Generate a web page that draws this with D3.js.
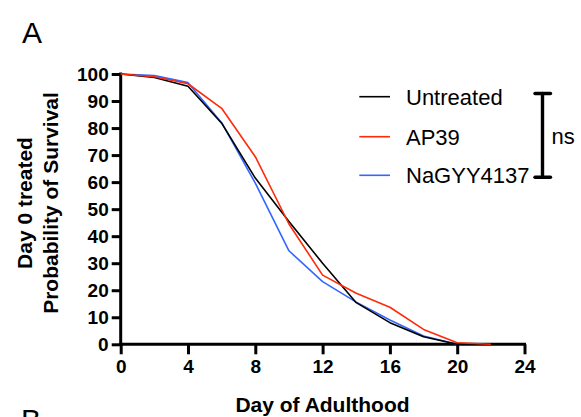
<!DOCTYPE html>
<html>
<head>
<meta charset="utf-8">
<script src="https://cdn.jsdelivr.net/npm/d3@7/dist/d3.min.js"></script>
<style>
  html, body { margin: 0; padding: 0; background: #fff; }
  svg { display: block; font-family: "Liberation Sans", Arial, Helvetica, sans-serif; }
</style>
</head>
<body>
<svg id="chart" width="581" height="417"></svg>
<script>
// Survival (%) by day of adulthood, worms treated on day 0
const days = [0, 2, 4, 6, 8, 10, 12, 14, 16, 18, 20, 22];
const untreated = [100, 98.7, 95.5, 81.8, 61.5, 45.4, 30.0, 15.4, 8.0, 2.8, 0];
const ap39 = [100, 99.0, 96.4, 87.3, 69.4, 44.5, 25.6, 18.9, 13.7, 5.5, 0.6, 0];
const nagyy4137 = [100, 99.4, 96.8, 82.0, 59.6, 34.6, 23.2, 15.6, 9.0, 3.1, 0];

const seriesNames = ["Untreated", "AP39", "NaGYY4137"];
const seriesColors = ["#000000", "#ff2a0a", "#3366ff"];
const xTicks = [0, 4, 8, 12, 16, 20, 24];
const yTicks = [0, 10, 20, 30, 40, 50, 60, 70, 80, 90, 100];

const svg = d3.select("#chart");

const x = d3.scaleLinear().domain([0, 24]).range([120.7, 524.5]);
const y = d3.scaleLinear().domain([0, 100]).range([344.3, 74]);

// Axes
const xAxis = svg.append("g")
  .attr("transform", `translate(0,${y(0)})`)
  .call(d3.axisBottom(x).tickValues(xTicks).tickSize(10).tickPadding(5).tickFormat(d3.format("d")));
const yAxis = svg.append("g")
  .attr("transform", `translate(${x(0)},0)`)
  .call(d3.axisLeft(y).tickValues(yTicks).tickSize(9).tickPadding(3).tickFormat(d3.format("d")));

[xAxis, yAxis].forEach(g => {
  g.select(".domain").attr("stroke", "#000").attr("stroke-width", 3).attr("stroke-linecap", "square");
  g.selectAll(".tick line").attr("stroke", "#000").attr("stroke-width", 3);
  g.selectAll(".tick text")
    .attr("fill", "#000")
    .style("font-family", "'Liberation Sans', Arial, sans-serif")
    .style("font-size", "19px")
    .style("font-weight", "bold");
});
// Axis lines end flush at the first and last ticks
xAxis.select(".domain").attr("d", `M${x(0)},0H${x(24)}`);
yAxis.select(".domain").attr("d", `M0,${y(0)}V${y(100)}`);

// Axis titles
svg.append("text")
  .attr("x", 322.5).attr("y", 411.5)
  .attr("text-anchor", "middle")
  .style("font-size", "21px").style("font-weight", "bold")
  .text("Day of Adulthood");

const yTitle = svg.append("g").attr("transform", "translate(0,203) rotate(-90)");
yTitle.append("text")
  .attr("x", 0).attr("y", 31.5)
  .attr("text-anchor", "middle")
  .style("font-size", "21px").style("font-weight", "bold")
  .text("Day 0 treated");
yTitle.append("text")
  .attr("x", 0).attr("y", 58.3)
  .attr("text-anchor", "middle")
  .style("font-size", "21px").style("font-weight", "bold")
  .text("Probability of Survival");

// Survival curves
const line = d3.line().x(d => x(d[0])).y(d => y(d[1]));
const seriesData = [untreated, ap39, nagyy4137].map(vals => vals.map((v, i) => [days[i], v]));
const drawOrder = [2, 0, 1];
drawOrder.forEach(i => {
  svg.append("path")
    .datum(seriesData[i])
    .attr("fill", "none")
    .attr("stroke", seriesColors[i])
    .attr("stroke-width", 1.6)
    .attr("stroke-linejoin", "round")
    .attr("d", line);
});

// Legend
const legendY = [96.7, 136.7, 175.3];
seriesNames.forEach((name, i) => {
  svg.append("line")
    .attr("x1", 359.3).attr("x2", 390)
    .attr("y1", legendY[i]).attr("y2", legendY[i])
    .attr("stroke", seriesColors[i]).attr("stroke-width", 1.6);
  svg.append("text")
    .attr("x", 406).attr("y", legendY[i] + 7.8)
    .style("font-size", "22px")
    .attr("fill", "#000")
    .text(name);
});

// Significance bracket
const br = svg.append("g").attr("stroke", "#000").attr("stroke-width", 3.4).attr("stroke-linecap", "round");
br.append("line").attr("x1", 542.5).attr("x2", 542.5).attr("y1", 93.5).attr("y2", 177.3);
br.append("line").attr("x1", 535).attr("x2", 550.5).attr("y1", 93.5).attr("y2", 93.5);
br.append("line").attr("x1", 535).attr("x2", 550.5).attr("y1", 177.3).attr("y2", 177.3);
svg.append("text")
  .attr("x", 551.5).attr("y", 144)
  .style("font-size", "22px")
  .text("ns");

// Panel letters
svg.append("text").attr("x", 22).attr("y", 43).style("font-size", "30px").text("A");
svg.append("text").attr("x", 21).attr("y", 430).style("font-size", "30px").text("B");
</script>
</body>
</html>
